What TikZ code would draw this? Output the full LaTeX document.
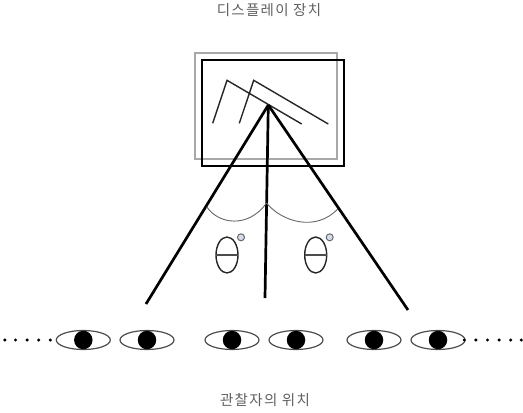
\documentclass[tikz,border=0pt]{standalone}
\usepackage{fontspec}
\usepackage{tikz}
\usetikzlibrary{positioning}
\usetikzlibrary{shapes.geometric}
\newfontfamily\krfont[LetterSpace=9]{Noto Sans CJK KR}
\definecolor{captiongray}{HTML}{606060}
\definecolor{framegray}{HTML}{A8A8A8}
\definecolor{bluedot}{HTML}{D5DCEC}

\begin{document}
\begin{tikzpicture}[
x=1pt, y=-1pt,
every node/.style={inner sep=0, outer sep=0},
caption/.style={font=\krfont\fontsize{14.5}{16}\selectfont, text=captiongray},
screen/.style={rectangle, draw=black, line width=2.4pt, minimum width=142pt, minimum height=106pt},
oldscreen/.style={rectangle, draw=framegray, line width=2.4pt, minimum width=142pt, minimum height=106pt},
viewer/.style={ellipse, draw=black!70, line width=1.2pt, fill=white, minimum width=54pt, minimum height=19pt},
pupil/.style={circle, fill=black, minimum size=18.5pt},
dot/.style={circle, fill=black, minimum size=3.4pt},
head/.style={ellipse, draw=black!85, line width=1.4pt, minimum width=22pt, minimum height=36pt},
spot/.style={circle, draw=black!60, fill=bluedot, line width=1pt, minimum size=7pt},
ray/.style={line width=2.7pt},
sketch/.style={line width=1.4pt, black!85},
arcline/.style={line width=0.9pt, black!60}
]
\useasboundingbox (0,0) rectangle (523,413);
\node[caption] (top) at (269,10.5) {디스플레이 장치};
\node[caption] (bottom) at (265,400.5) {관찰자의 위치};
\node[oldscreen] (old) at (266,106) {};
\node[screen] (display) at (273,113) {};
% bent strokes on the screen
\coordinate (a1) at (212.7,123.3);
\coordinate (a2) at (227,80.3);
\coordinate (a3) at (301.7,124);
\coordinate (b1) at (239.3,123.3);
\coordinate (b2) at (253.7,80.3);
\coordinate (b3) at (328.3,124);
\draw[sketch] (a1) -- (a2) -- (a3);
\draw[sketch] (b1) -- (b2) -- (b3);
% viewing lines
\coordinate (apex) at (268.3,105);
\coordinate (rayl) at (146,304);
\coordinate (rayc) at (265,298);
\coordinate (rayr) at (408,310);
\draw[ray] (apex) -- (rayl);
\draw[ray] (apex) -- (rayc);
\draw[ray] (apex) -- (rayr);
% zones
\coordinate (zl) at (206.7,206.7);
\coordinate (zc) at (266.5,203);
\coordinate (zr) at (337.7,209);
\draw[arcline] (zl) .. controls (218,224) and (248,229) .. (zc);
\draw[arcline] (zc) .. controls (282,222) and (316,232) .. (zr);
% heads
\node[head] (h1) at (227,255) {};
\node[head] (h2) at (315.7,255) {};
\draw[line width=1.6pt, black!70] (h1.west) -- (h1.east);
\draw[line width=1.6pt, black!70] (h2.west) -- (h2.east);
\node[spot] (s1) at (241,237.3) {};
\node[spot] (s2) at (329.7,237.3) {};
% eyes
\node[viewer] (e1) at (83.3,340) {};
\node[viewer, right=9.7pt of e1] (e2) {};
\node[viewer, right=31pt of e2] (e3) {};
\node[viewer, right=10pt of e3] (e4) {};
\node[viewer, right=24pt of e4] (e5) {};
\node[viewer, right=10pt of e5] (e6) {};
\node[pupil] at (e1.center) {};
\node[pupil] at (e2.center) {};
\node[pupil] at (e3.center) {};
\node[pupil] at (e4.center) {};
\node[pupil] at (e5.center) {};
\node[pupil] at (e6.center) {};
% dots
\node[dot] (l5) at (50.3,340) {};
\node[dot, left=8.2pt of l5] (l4) {};
\node[dot, left=8.2pt of l4] (l3) {};
\node[dot, left=8.2pt of l3] (l2) {};
\node[dot, left=7.2pt of l2] (l1) {};
\node[dot] (r1) at (464.3,340) {};
\node[dot, right=8.2pt of r1] (r2) {};
\node[dot, right=8.2pt of r2] (r3) {};
\node[dot, right=8.2pt of r3] (r4) {};
\node[dot, right=8.2pt of r4] (r5) {};
\node[dot, right=7.2pt of r5] (r6) {};
\end{tikzpicture}
\end{document}
